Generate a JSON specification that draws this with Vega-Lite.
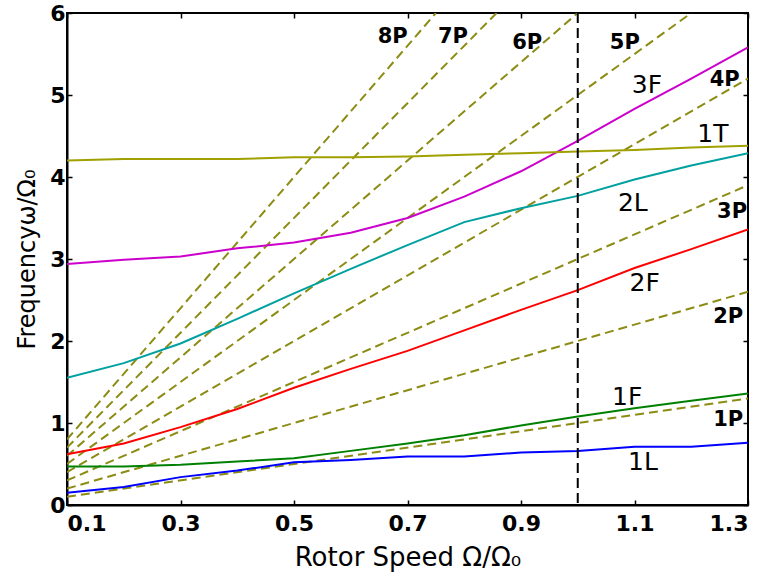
{
  "$schema": "https://vega.github.io/schema/vega-lite/v6.json",
  "width": 681,
  "height": 492,
  "autosize": {"type": "none"},
  "padding": {"left": 67, "top": 13, "right": 21, "bottom": 81},
  "background": "white",
  "config": {
    "view": {"stroke": "black", "strokeWidth": 2},
    "font": "DejaVu Sans",
    "axis": {
      "grid": false,
      "domainColor": "black",
      "domainWidth": 2,
      "tickColor": "black",
      "tickWidth": 1.5,
      "tickSize": -5,
      "labelFont": "DejaVu Sans",
      "labelFontWeight": "bold",
      "labelFontSize": 22,
      "labelColor": "black",
      "titleFont": "DejaVu Sans",
      "titleFontWeight": "normal",
      "titleFontSize": 24,
      "titleColor": "black"
    }
  },
  "datasets": {
    "curves": [
      {"s": "1L", "x": 0.1, "y": 0.15}, {"s": "1L", "x": 0.2, "y": 0.22}, {"s": "1L", "x": 0.3, "y": 0.34}, {"s": "1L", "x": 0.4, "y": 0.42}, {"s": "1L", "x": 0.5, "y": 0.52}, {"s": "1L", "x": 0.6, "y": 0.55}, {"s": "1L", "x": 0.7, "y": 0.59}, {"s": "1L", "x": 0.8, "y": 0.59}, {"s": "1L", "x": 0.9, "y": 0.64}, {"s": "1L", "x": 1.0, "y": 0.66}, {"s": "1L", "x": 1.1, "y": 0.71}, {"s": "1L", "x": 1.2, "y": 0.71}, {"s": "1L", "x": 1.3, "y": 0.76},
      {"s": "1F", "x": 0.1, "y": 0.47}, {"s": "1F", "x": 0.2, "y": 0.47}, {"s": "1F", "x": 0.3, "y": 0.49}, {"s": "1F", "x": 0.4, "y": 0.53}, {"s": "1F", "x": 0.5, "y": 0.57}, {"s": "1F", "x": 0.6, "y": 0.66}, {"s": "1F", "x": 0.7, "y": 0.75}, {"s": "1F", "x": 0.8, "y": 0.85}, {"s": "1F", "x": 0.9, "y": 0.97}, {"s": "1F", "x": 1.0, "y": 1.08}, {"s": "1F", "x": 1.1, "y": 1.18}, {"s": "1F", "x": 1.2, "y": 1.27}, {"s": "1F", "x": 1.3, "y": 1.36},
      {"s": "2F", "x": 0.1, "y": 0.62}, {"s": "2F", "x": 0.2, "y": 0.75}, {"s": "2F", "x": 0.3, "y": 0.95}, {"s": "2F", "x": 0.4, "y": 1.17}, {"s": "2F", "x": 0.5, "y": 1.43}, {"s": "2F", "x": 0.6, "y": 1.66}, {"s": "2F", "x": 0.7, "y": 1.88}, {"s": "2F", "x": 0.8, "y": 2.13}, {"s": "2F", "x": 0.9, "y": 2.38}, {"s": "2F", "x": 1.0, "y": 2.62}, {"s": "2F", "x": 1.1, "y": 2.89}, {"s": "2F", "x": 1.2, "y": 3.12}, {"s": "2F", "x": 1.3, "y": 3.36},
      {"s": "2L", "x": 0.1, "y": 1.55}, {"s": "2L", "x": 0.2, "y": 1.73}, {"s": "2L", "x": 0.3, "y": 1.97}, {"s": "2L", "x": 0.4, "y": 2.27}, {"s": "2L", "x": 0.5, "y": 2.58}, {"s": "2L", "x": 0.6, "y": 2.88}, {"s": "2L", "x": 0.7, "y": 3.17}, {"s": "2L", "x": 0.8, "y": 3.45}, {"s": "2L", "x": 0.9, "y": 3.62}, {"s": "2L", "x": 1.0, "y": 3.77}, {"s": "2L", "x": 1.1, "y": 3.97}, {"s": "2L", "x": 1.2, "y": 4.14}, {"s": "2L", "x": 1.3, "y": 4.29},
      {"s": "3F", "x": 0.1, "y": 2.94}, {"s": "3F", "x": 0.2, "y": 2.99}, {"s": "3F", "x": 0.3, "y": 3.03}, {"s": "3F", "x": 0.4, "y": 3.13}, {"s": "3F", "x": 0.5, "y": 3.2}, {"s": "3F", "x": 0.6, "y": 3.32}, {"s": "3F", "x": 0.7, "y": 3.5}, {"s": "3F", "x": 0.8, "y": 3.76}, {"s": "3F", "x": 0.9, "y": 4.07}, {"s": "3F", "x": 1.0, "y": 4.44}, {"s": "3F", "x": 1.1, "y": 4.83}, {"s": "3F", "x": 1.2, "y": 5.2}, {"s": "3F", "x": 1.3, "y": 5.58},
      {"s": "1T", "x": 0.1, "y": 4.2}, {"s": "1T", "x": 0.2, "y": 4.22}, {"s": "1T", "x": 0.3, "y": 4.22}, {"s": "1T", "x": 0.4, "y": 4.22}, {"s": "1T", "x": 0.5, "y": 4.24}, {"s": "1T", "x": 0.6, "y": 4.24}, {"s": "1T", "x": 0.7, "y": 4.25}, {"s": "1T", "x": 0.8, "y": 4.27}, {"s": "1T", "x": 0.9, "y": 4.29}, {"s": "1T", "x": 1.0, "y": 4.31}, {"s": "1T", "x": 1.1, "y": 4.33}, {"s": "1T", "x": 1.2, "y": 4.36}, {"s": "1T", "x": 1.3, "y": 4.38}
    ],
    "plines": [
      {"s": "1P", "x": 0.1, "y": 0.1}, {"s": "1P", "x": 1.3, "y": 1.3},
      {"s": "2P", "x": 0.1, "y": 0.2}, {"s": "2P", "x": 1.3, "y": 2.6},
      {"s": "3P", "x": 0.1, "y": 0.3}, {"s": "3P", "x": 1.3, "y": 3.9},
      {"s": "4P", "x": 0.1, "y": 0.4}, {"s": "4P", "x": 1.3, "y": 5.2},
      {"s": "5P", "x": 0.1, "y": 0.5}, {"s": "5P", "x": 1.2, "y": 6.0},
      {"s": "6P", "x": 0.1, "y": 0.6}, {"s": "6P", "x": 1.0, "y": 6.0},
      {"s": "7P", "x": 0.1, "y": 0.7}, {"s": "7P", "x": 0.857, "y": 6.0},
      {"s": "8P", "x": 0.1, "y": 0.8}, {"s": "8P", "x": 0.75, "y": 6.0}
    ],
    "labelsNormal": [
      {"t": "3F", "x": 1.122, "y": 5.12},
      {"t": "1T", "x": 1.238, "y": 4.53},
      {"t": "2L", "x": 1.097, "y": 3.68},
      {"t": "2F", "x": 1.118, "y": 2.71},
      {"t": "1F", "x": 1.087, "y": 1.32},
      {"t": "1L", "x": 1.115, "y": 0.52}
    ],
    "labelsBold": [
      {"t": "8P", "x": 0.674, "y": 5.71},
      {"t": "7P", "x": 0.78, "y": 5.71},
      {"t": "6P", "x": 0.911, "y": 5.63},
      {"t": "5P", "x": 1.083, "y": 5.63},
      {"t": "4P", "x": 1.259, "y": 5.18},
      {"t": "3P", "x": 1.272, "y": 3.57},
      {"t": "2P", "x": 1.265, "y": 2.29},
      {"t": "1P", "x": 1.265, "y": 1.04}
    ],
    "vline": [{"x": 1.0}],
    "frame": [{"x": 0.1, "y": 0}, {"x": 1.3, "y": 6}]
  },
  "resolve": {"axis": {"x": "independent", "y": "independent"}},
  "layer": [
    {
      "data": {"name": "plines"},
      "mark": {"type": "line", "color": "#8c8c14", "strokeWidth": 2, "strokeDash": [9, 5], "clip": true},
      "encoding": {
        "x": {"field": "x", "type": "quantitative", "scale": {"domain": [0.1, 1.3], "nice": false, "zero": false},
              "axis": {"orient": "bottom", "values": [0.1, 0.3, 0.5, 0.7, 0.9, 1.1, 1.3], "format": ".1f", "title": "Rotor Speed Ω/Ω₀", "titleFontSize": 26, "labelPadding": 13, "titlePadding": 10}},
        "y": {"field": "y", "type": "quantitative", "scale": {"domain": [0, 6], "nice": false},
              "axis": {"orient": "left", "values": [0, 1, 2, 3, 4, 5, 6], "format": "d", "title": "Frequencyω/Ω₀", "labelPadding": 7, "titlePadding": 10}},
        "detail": {"field": "s", "type": "nominal"}
      }
    },
    {
      "data": {"name": "curves"},
      "mark": {"type": "line", "strokeWidth": 2, "clip": true},
      "encoding": {
        "x": {"field": "x", "type": "quantitative", "scale": {"domain": [0.1, 1.3], "nice": false, "zero": false}, "axis": null},
        "y": {"field": "y", "type": "quantitative", "scale": {"domain": [0, 6], "nice": false}, "axis": null},
        "color": {"field": "s", "type": "nominal", "legend": null,
                  "scale": {"domain": ["1L", "1F", "2F", "2L", "3F", "1T"], "range": ["#0000ff", "#008000", "#ff0000", "#00a0a0", "#cc00cc", "#a0a000"]}}
      }
    },
    {
      "data": {"name": "vline"},
      "mark": {"type": "rule", "color": "black", "strokeWidth": 2, "strokeDash": [10, 5]},
      "encoding": {
        "x": {"field": "x", "type": "quantitative", "scale": {"domain": [0.1, 1.3], "nice": false, "zero": false}, "axis": null}
      }
    },
    {
      "data": {"name": "labelsNormal"},
      "mark": {"type": "text", "font": "DejaVu Sans", "fontSize": 25, "color": "black", "align": "center", "baseline": "middle"},
      "encoding": {
        "x": {"field": "x", "type": "quantitative", "scale": {"domain": [0.1, 1.3], "nice": false, "zero": false}, "axis": null},
        "y": {"field": "y", "type": "quantitative", "scale": {"domain": [0, 6], "nice": false}, "axis": null},
        "text": {"field": "t"}
      }
    },
    {
      "data": {"name": "labelsBold"},
      "mark": {"type": "text", "font": "DejaVu Sans", "fontSize": 21, "fontWeight": "bold", "color": "black", "align": "center", "baseline": "middle"},
      "encoding": {
        "x": {"field": "x", "type": "quantitative", "scale": {"domain": [0.1, 1.3], "nice": false, "zero": false}, "axis": null},
        "y": {"field": "y", "type": "quantitative", "scale": {"domain": [0, 6], "nice": false}, "axis": null},
        "text": {"field": "t"}
      }
    },
    {
      "data": {"name": "frame"},
      "mark": {"type": "point", "opacity": 0},
      "encoding": {
        "x": {"field": "x", "type": "quantitative", "scale": {"domain": [0.1, 1.3], "nice": false, "zero": false},
              "axis": {"orient": "top", "values": [0.1, 0.3, 0.5, 0.7, 0.9, 1.1, 1.3], "labels": false, "title": null, "domain": false}},
        "y": {"field": "y", "type": "quantitative", "scale": {"domain": [0, 6], "nice": false},
              "axis": {"orient": "right", "values": [0, 1, 2, 3, 4, 5, 6], "labels": false, "title": null, "domain": false}}
      }
    }
  ]
}
